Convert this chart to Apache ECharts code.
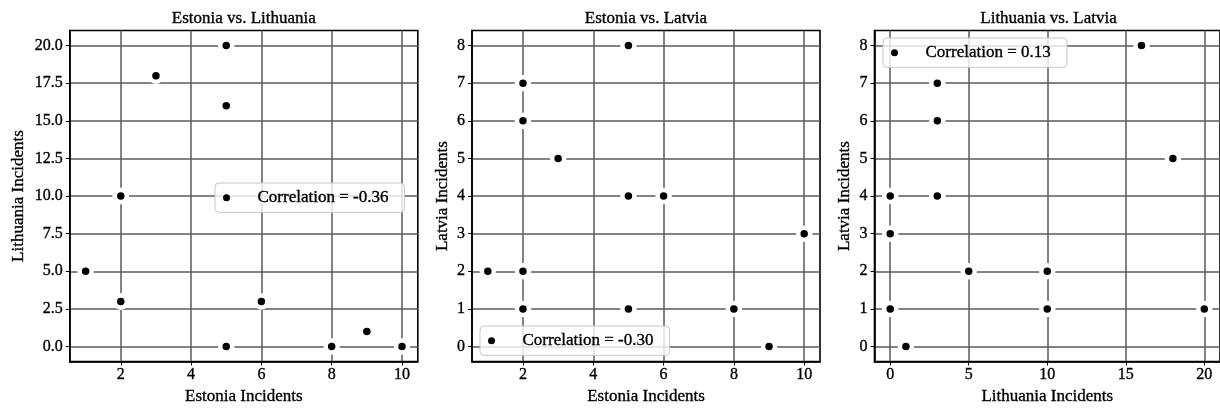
<!DOCTYPE html>
<html>
<head>
<meta charset="utf-8">
<script src="https://cdn.jsdelivr.net/npm/echarts@6/dist/echarts.min.js"></script>
<style>
html,body{margin:0;padding:0;background:#fff;}
#chart{width:1220px;height:410px;}
</style>
</head>
<body>
<div id="chart"></div>
<script>
// Incidents per observation (one row per observation)
const estonia   = [5, 2, 2, 3, 5, 6, 10, 1, 2, 2, 5, 8, 9];
const lithuania = [16, 3, 3, 18, 0, 3, 0, 5, 10, 10, 20, 0, 1];
const latvia    = [8, 7, 6, 5, 4, 4, 3, 2, 2, 1, 1, 1, 0];

const titles = ['Estonia vs. Lithuania', 'Estonia vs. Latvia', 'Lithuania vs. Latvia'];
const xNames = ['Estonia Incidents', 'Estonia Incidents', 'Lithuania Incidents'];
const yNames = ['Lithuania Incidents', 'Latvia Incidents', 'Latvia Incidents'];
const legendLabels = ['Correlation = -0.36', 'Correlation = -0.30', 'Correlation = 0.13'];

const estoniaTicks   = [2, 4, 6, 8, 10];
const lithuaniaXTicks = [0, 5, 10, 15, 20];
const lithuaniaYTicks = [0, 2.5, 5, 7.5, 10, 12.5, 15, 17.5, 20];
const latviaTicks    = [0, 1, 2, 3, 4, 5, 6, 7, 8];

const pairs = [
  [estonia, lithuania],
  [estonia, latvia],
  [lithuania, latvia]
];
const xTickSets = [estoniaTicks, estoniaTicks, lithuaniaXTicks];
const yTickSets = [lithuaniaYTicks, latviaTicks, latviaTicks];
const xRanges = [[0.55, 10.45], [0.55, 10.45], [-1, 21]];
const yRanges = [[-1, 21], [-0.4, 8.4], [-0.4, 8.4]];
const yDecimals = [1, 0, 0];

const FONT = 'Liberation Serif';
const TXT = {fontFamily: FONT, color: '#000', textBorderColor: '#000', textBorderWidth: 0.35};
const gridLefts = [69.8, 472, 874.5];
const gridW = 348;
const gridTop = 30.5;
const gridH = 334.7;
const yNameGaps = [43, 21, 21];
const legendPos = [
  {left: 215, top: 183},
  {left: 480, top: 326},
  {left: 883, top: 38}
];

const option = {
  animation: false,
  backgroundColor: '#fff',
  title: titles.map((t, i) => ({
    text: t,
    left: gridLefts[i] + gridW / 2,
    top: 10,
    textAlign: 'center',
    padding: 0,
    textStyle: Object.assign({fontSize: 17, fontWeight: 'normal'}, TXT)
  })),
  grid: gridLefts.map(l => ({
    left: l, top: gridTop, width: gridW, height: gridH,
    show: true, borderColor: '#000', borderWidth: 1.6, backgroundColor: 'transparent'
  })),
  legend: legendLabels.map((lab, i) => ({
    data: [lab],
    left: legendPos[i].left,
    top: legendPos[i].top,
    orient: 'horizontal',
    icon: 'circle',
    itemWidth: 30,
    itemHeight: 7,
    padding: [6, 16, 6, 8],
    backgroundColor: 'rgba(255,255,255,0.8)',
    borderColor: '#c8c8c8',
    borderWidth: 1,
    borderRadius: 4,
    selectedMode: false,
    itemStyle: {color: '#000', borderWidth: 0},
    textStyle: Object.assign({fontSize: 17, padding: [0, 0, 0, 11]}, TXT)
  })),
  xAxis: xRanges.map((r, i) => ({
    type: 'value',
    gridIndex: i,
    min: r[0], max: r[1],
    name: xNames[i],
    nameLocation: 'middle',
    nameGap: 23,
    nameTextStyle: Object.assign({fontSize: 17}, TXT),
    axisLine: {show: true, onZero: false, lineStyle: {color: '#000', width: 1.6}},
    axisTick: {show: true, length: 4, lineStyle: {color: '#000', width: 1}, customValues: xTickSets[i]},
    axisLabel: Object.assign({fontSize: 16, margin: 5, customValues: xTickSets[i]}, TXT),
    splitLine: {show: true, lineStyle: {color: '#5a5a5a', width: 1.5}}
  })),
  yAxis: yRanges.map((r, i) => ({
    type: 'value',
    gridIndex: i,
    min: r[0], max: r[1],
    name: yNames[i],
    nameLocation: 'middle',
    nameGap: yNameGaps[i],
    nameTextStyle: Object.assign({fontSize: 17}, TXT),
    axisLine: {show: true, onZero: false, lineStyle: {color: '#000', width: 1.6}},
    axisTick: {show: true, length: 4, lineStyle: {color: '#000', width: 1}, customValues: yTickSets[i]},
    axisLabel: Object.assign({fontSize: 16, margin: 7, customValues: yTickSets[i],
      formatter: v => Number(v).toFixed(yDecimals[i])}, TXT),
    splitLine: {show: true, lineStyle: {color: '#5a5a5a', width: 1.5}}
  })),
  series: pairs.map((p, i) => ({
    type: 'scatter',
    name: legendLabels[i],
    xAxisIndex: i,
    yAxisIndex: i,
    symbol: 'circle',
    symbolSize: 12,
    itemStyle: {color: '#000', borderColor: '#fff', borderWidth: 4.5, opacity: 1},
    emphasis: {disabled: true},
    z: 5,
    data: p[0].map((x, k) => [x, p[1][k]])
  }))
};

const chart = echarts.init(document.getElementById('chart'), null, {renderer: 'canvas'});
chart.setOption(option);
</script>
</body>
</html>
